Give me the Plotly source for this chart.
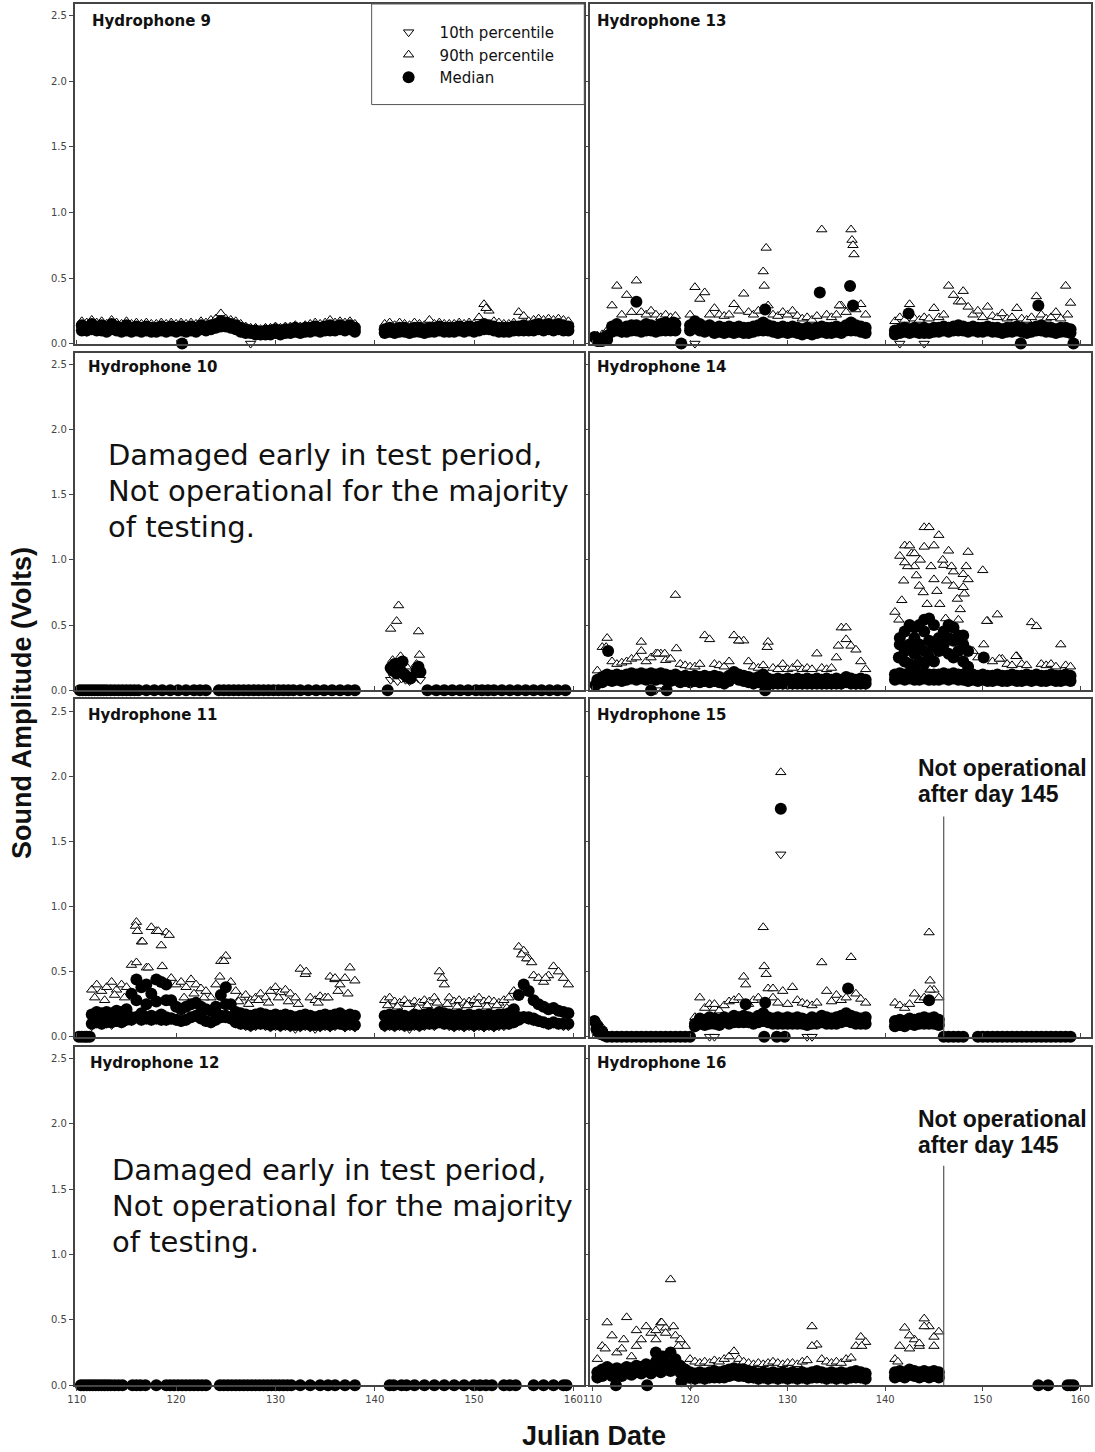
import plotly.graph_objects as go
from plotly.subplots import make_subplots

# ---------------- shared day grids (Julian day) ----------------
DAYS_A = [110.5, 111.0, 111.5, 112.0, 112.5, 113.0, 113.5, 114.0, 114.5, 115.0,
          115.5, 116.0, 116.5, 117.0, 117.5, 118.0, 118.5, 119.0, 119.5, 120.0,
          120.5, 121.0, 121.5, 122.0, 122.5, 123.0, 123.5, 124.0, 124.5, 125.0,
          125.5, 126.0, 126.5, 127.0, 127.5, 128.0, 128.5, 129.0, 129.5, 130.0,
          130.5, 131.0, 131.5, 132.0, 132.5, 133.0, 133.5, 134.0, 134.5, 135.0,
          135.5, 136.0, 136.5, 137.0, 137.5, 138.0]
DAYS_B = [141.0, 141.5, 142.0, 142.5, 143.0, 143.5, 144.0, 144.5, 145.0, 145.5,
          146.0, 146.5, 147.0, 147.5, 148.0, 148.5, 149.0, 149.5, 150.0, 150.5,
          151.0, 151.5, 152.0, 152.5, 153.0, 153.5, 154.0, 154.5, 155.0, 155.5,
          156.0, 156.5, 157.0, 157.5, 158.0, 158.5, 159.0, 159.5]
X_TICKS = [110, 120, 130, 140, 150, 160]
Y_TICKS = [0.0, 0.5, 1.0, 1.5, 2.0, 2.5]
Y_TICK_TEXT = ["0.0", "0.5", "1.0", "1.5", "2.0", "2.5"]

# ---------------- Hydrophone 9 ----------------
H9_MED_A = [.14, .12, .15, .13, .14, .12, .15, .13, .12, .14,
            .12, .13, .12, .13, .12, .12, .13, .12, .13, .12,
            .13, .12, .13, .12, .14, .13, .14, .15, .17, .16,
            .15, .14, .12, .11, .10, .10, .09, .10, .10, .11,
            .10, .11, .11, .12, .11, .12, .12, .13, .12, .13,
            .14, .13, .14, .13, .14, .12]
H9_MED2_A = [.10, .10, .11, .10, .10, .09, .11, .10, .09, .10,
             .09, .10, .09, .10, .09, .09, .10, .09, .10, .09,
             .10, .09, .10, .09, .11, .10, .11, .12, .13, .13,
             .12, .11, .09, .08, .08, .07, .07, .07, .07, .08,
             .07, .08, .08, .09, .08, .09, .09, .10, .09, .10,
             .10, .10, .11, .10, .11, .09]
H9_P90_A = [.17, .16, .18, .16, .17, .15, .18, .16, .15, .17,
            .15, .16, .15, .16, .15, .15, .16, .15, .16, .15,
            .16, .15, .16, .15, .17, .16, .18, .19, .23, .19,
            .18, .17, .15, .13, .12, .12, .11, .12, .12, .13,
            .12, .13, .13, .14, .13, .14, .15, .16, .15, .16,
            .18, .16, .17, .16, .17, .15]
H9_P10_A = [.11, .09, .12, .10, .11, .09, .12, .10, .09, .11,
            .09, .10, .09, .10, .09, .09, .10, .09, .10, .09,
            .10, .09, .10, .09, .11, .10, .11, .12, .14, .13,
            .12, .11, .09, .08, 0.0, .07, .06, .07, .07, .08,
            .07, .08, .08, .09, .08, .09, .09, .10, .09, .10,
            .11, .10, .11, .10, .11, .09]
H9_MED_B = [.11, .12, .11, .12, .12, .11, .12, .12, .11, .12,
            .12, .13, .12, .12, .12, .13, .12, .13, .12, .13,
            .15, .14, .13, .12, .12, .12, .13, .13, .14, .13,
            .14, .15, .14, .15, .14, .15, .14, .13]
H9_MED2_B = [.08, .09, .08, .09, .09, .08, .09, .09, .08, .09,
             .09, .10, .09, .09, .09, .10, .09, .10, .09, .10,
             .11, .11, .10, .09, .09, .09, .10, .10, .10, .10,
             .10, .11, .10, .11, .10, .11, .10, .10]
H9_P90_B = [.15, .16, .14, .16, .15, .14, .16, .15, .14, .18,
            .15, .16, .15, .15, .15, .16, .15, .16, .15, .20,
            .30, .25, .17, .16, .15, .15, .16, .24, .21, .17,
            .18, .19, .18, .19, .18, .19, .18, .17]
H9_P10_B = [.08, .09, .08, .09, .09, .08, .09, .09, .08, .09,
            .09, .10, .09, .09, .09, .10, .09, .10, .09, .10,
            .12, .11, .10, .09, .09, .09, .10, .10, .11, .10,
            .11, .12, .11, .12, .11, .12, .11, .10]
H9_MED_XD = [120.6]
H9_MED_XV = [0.0]
H9_P90_XD = [151.2]
H9_P90_XV = [0.27]
H9_P10_XD = []
H9_P10_XV = []

# ---------------- Hydrophone 13 ----------------
H13_MED_A = [.03, .04, .06, .13, .15, .12, .13, .14, .14, .13,
             .15, .14, .13, .15, .16, .14, .15, None, None, .14,
             .17, .15, .13, .14, .12, .13, .12, .13, .12, .13,
             .12, .12, .13, .14, .16, .14, .13, .12, .13, .12,
             .13, .12, .11, .12, .11, .12, .13, .12, .12, .13,
             .12, .14, .16, .14, .13, .12]
H13_MED2_A = [.02, .02, .03, .09, .10, .09, .09, .10, .10, .09,
              .10, .10, .09, .10, .10, .10, .10, None, None, .10,
              .12, .10, .09, .10, .08, .09, .08, .09, .08, .09,
              .08, .08, .09, .10, .10, .10, .09, .08, .09, .08,
              .09, .08, .07, .08, .07, .08, .09, .08, .08, .09,
              .08, .10, .10, .10, .09, .08]
H13_P90_A = [.06, .07, .10, .29, .44, .22, .37, .24, .48, .24,
             .22, .25, .22, .20, .22, .20, .21, None, None, .22,
             .43, .34, .39, .22, .27, .22, .21, .22, .30, .25,
             .38, .24, .22, .25, .55, .29, .22, .21, .24, .22,
             .25, .21, .19, .20, .18, .21, .87, .22, .20, .22,
             .29, .24, .87, .26, .30, .22]
H13_P10_A = [.01, .02, .03, .09, .10, .08, .09, .10, .10, .09,
             .10, .10, .09, .10, .11, .10, .10, None, None, .10,
             0.0, .11, .09, .10, .08, .09, .08, .09, .08, .09,
             .08, .08, .09, .10, .11, .10, .09, .08, .09, .08,
             .09, .08, .07, .08, .07, .08, .09, .08, .08, .09,
             .08, .10, .11, .10, .09, .08]
H13_MED_B = [.10, .11, .12, .11, .12, .11, .12, .11, .12, .12,
             .13, .12, .13, .14, .13, .12, .13, .12, .12, .13,
             .12, .12, .11, .12, .12, .13, .12, .11, .12, .13,
             .14, .12, .12, .11, .12, .12, .11, None]
H13_MED2_B = [.07, .08, .09, .08, .09, .08, .08, .08, .09, .09,
              .10, .09, .10, .10, .10, .09, .10, .09, .09, .10,
              .09, .09, .08, .09, .09, .10, .09, .08, .09, .10,
              .10, .09, .09, .08, .09, .09, .08, None]
H13_P90_B = [.17, .20, .18, .30, .19, .18, .20, .19, .27, .20,
             .22, .44, .37, .32, .40, .28, .22, .25, .20, .28,
             .21, .20, .23, .19, .20, .27, .19, .18, .20, .36,
             .22, .19, .20, .24, .19, .44, .31, None]
H13_P10_B = [.07, 0.0, .09, .08, .09, .08, 0.0, .08, .09, .09,
             .10, .09, .10, .11, .10, .09, .10, .09, .09, .10,
             .09, .09, .08, .09, .09, .10, .09, .08, .09, .10,
             .11, .09, .09, .08, .09, .09, .08, None]
H13_MED_XD = [110.2, 110.8, 111.2, 114.5, 118.3, 119.1, 127.7, 133.3, 136.4, 136.7, 142.4, 153.9, 155.7, 159.3]
H13_MED_XV = [0.05, 0.02, 0.03, 0.32, 0.16, 0.0, 0.26, 0.39, 0.44, 0.29, 0.23, 0.0, 0.29, 0.0]
H13_P90_XD = [127.6, 127.8, 136.6, 136.7, 136.8, 135.3, 147.8, 158.7]
H13_P90_XV = [0.44, 0.73, 0.79, 0.75, 0.68, 0.29, 0.32, 0.22]
H13_P10_XD = []
H13_P10_XV = []

# ---------------- Hydrophone 14 ----------------
H14_MED_A = [.08, .10, .12, .11, .12, .11, .12, .13, .12, .13,
             .12, .13, .12, .13, .12, .11, .12, .10, .11, .10,
             .11, .10, .11, .10, .11, .10, .09, .11, .14, .12,
             .11, .10, .09, .10, .12, .09, .08, .09, .08, .09,
             .08, .09, .08, .09, .08, .09, .08, .09, .08, .09,
             .08, .10, .09, .08, .09, .08]
H14_MED2_A = [.05, .06, .08, .07, .08, .07, .08, .09, .08, .09,
              .08, .09, .08, .09, .08, .07, .08, .06, .07, .06,
              .07, .06, .07, .06, .07, .06, .05, .07, .10, .08,
              .07, .06, .05, .06, .08, .05, .05, .05, .05, .05,
              .05, .05, .05, .05, .05, .05, .05, .05, .05, .05,
              .05, .06, .05, .05, .05, .05]
H14_P90_A = [.15, .33, .40, .22, .20, .21, .22, .24, .25, .37,
             .22, .25, .28, .28, .23, .24, .73, .20, .19, .18,
             .18, .20, .42, .39, .20, .19, .18, .22, .42, .38,
             .38, .22, .18, .17, .19, .37, .17, .16, .20, .16,
             .17, .20, .16, .17, .16, .28, .17, .16, .17, .25,
             .48, .48, .34, .31, .22, .16]
H14_P10_A = [.04, .06, .08, .07, .08, .07, .08, .09, .08, .09,
             .08, .09, 0.0, .09, .08, .07, .08, .06, .07, .06,
             .07, .06, .07, .06, .07, .06, .05, .07, .10, .08,
             .07, .06, .05, .06, .08, .05, .04, .05, .04, .05,
             .04, .05, .04, .05, .04, .05, .04, .05, .04, .05,
             .04, .06, .05, .04, .05, .04]
H14_MED_B = [.12, .13, .12, .13, .12, .12, .13, .12, .12, .12,
             .13, .12, .13, .12, .12, .11, .12, .11, .12, .11,
             .11, .12, .11, .11, .12, .11, .11, .12, .11, .12,
             .11, .11, .12, .11, .11, .12, .11, None]
H14_MED2_B = [.08, .09, .08, .09, .08, .08, .09, .08, .08, .08,
              .09, .08, .09, .08, .08, .07, .08, .07, .08, .07,
              .07, .08, .07, .07, .08, .07, .07, .08, .07, .08,
              .07, .07, .08, .07, .07, .08, .07, None]
H14_P90_B = [.60, 1.03, 1.11, 1.11, .95, .80, 1.25, 1.25, 1.11, 1.19,
             .96, 1.07, .91, .54, .89, 1.06, .30, .25, .92, .53,
             .22, .58, .24, .20, .19, .26, .20, .19, .52, .49,
             .20, .19, .20, .18, .35, .19, .18, None]
H14_P10_B = [.08, .09, .08, .09, .08, .08, .09, .08, .08, .08,
             .09, .08, .09, .08, .08, .07, .08, .07, .08, .07,
             .07, .08, .07, .07, .08, .07, .07, .08, .07, .08,
             .07, .07, .08, .07, .07, .08, .07, None]
H14_MED_XD = [116.0, 117.6, 127.7, 111.6, 110.3,
              141.4, 141.5, 141.5, 142.0, 142.0, 142.0, 142.5, 142.5, 142.5,
              143.0, 143.0, 143.0, 143.0, 143.5, 143.5, 143.5, 144.0, 144.0, 144.0, 144.0,
              144.5, 144.5, 144.5, 145.0, 145.0, 145.0, 145.5, 145.5, 146.0, 146.0,
              146.5, 146.5, 146.5, 147.0, 147.0, 147.0, 147.5, 147.5,
              148.0, 148.0, 148.0, 148.5, 148.5, 150.1]
H14_MED_XV = [0.0, 0.0, 0.0, 0.30, 0.04,
              0.25, 0.35, 0.40, 0.22, 0.30, 0.45, 0.20, 0.35, 0.50,
              0.18, 0.28, 0.40, 0.48, 0.22, 0.35, 0.50, 0.20, 0.30, 0.45, 0.54,
              0.25, 0.38, 0.55, 0.22, 0.33, 0.50, 0.30, 0.40, 0.35, 0.45,
              0.28, 0.40, 0.50, 0.25, 0.38, 0.48, 0.30, 0.42,
              0.22, 0.35, 0.42, 0.18, 0.30, 0.25]
H14_P90_XD = [141.4, 141.7, 141.9, 142.3, 142.7, 143.2, 143.6, 143.9, 144.3, 144.7,
              145.0, 145.3, 145.6, 145.9, 146.3, 146.8, 147.0, 147.4, 147.7, 148.0,
              148.1, 148.3, 148.5, 146.2, 144.0, 143.0, 142.0, 150.1, 151.7, 153.4,
              150.4, 111.4, 115.0, 116.7, 117.4, 118.6, 125.0, 127.9, 136.0, 135.2]
H14_P90_XV = [0.54, 0.69, 0.84, 0.95, 1.05, 0.88, 1.00, 0.75, 0.66, 0.95,
              0.85, 0.76, 0.66, 1.00, 0.84, 0.95, 0.80, 0.70, 0.62, 0.79,
              0.74, 0.95, 0.85, 0.55, 1.10, 1.05, 0.98, 0.35, 0.24, 0.26,
              0.53, 0.33, 0.30, 0.28, 0.28, 0.32, 0.38, 0.33, 0.39, 0.34]
H14_P10_XD = []
H14_P10_XV = []

# ---------------- Hydrophone 11 ----------------
H11_MED_A = [0.0, 0.0, .17, .19, .18, .19, .18, .20, .19, .21,
             .33, .44, .38, .40, .33, .44, .42, .40, .28, .23,
             .21, .23, .25, .26, .23, .21, .20, .23, .32, .38,
             .25, .19, .18, .17, .16, .17, .18, .17, .16, .17,
             .16, .17, .16, .15, .16, .17, .16, .15, .16, .17,
             .16, .17, .18, .16, .17, .16]
H11_MED2_A = [None, None, .10, .11, .10, .11, .11, .12, .11, .13,
              .13, .15, .13, .14, .13, .14, .13, .13, .14, .13,
              .12, .13, .15, .16, .14, .12, .11, .13, .15, .16,
              .14, .11, .10, .10, .09, .10, .10, .10, .09, .10,
              .09, .10, .09, .09, .09, .10, .09, .09, .09, .10,
              .09, .10, .10, .09, .10, .09]
H11_P90_A = [None, None, .36, .40, .35, .38, .42, .36, .40, .38,
             .55, .88, .73, .53, .84, .81, .70, .80, .45, .40,
             .42, .38, .44, .40, .37, .35, .30, .40, .58, .62,
             .42, .35, .30, .32, .28, .30, .33, .30, .35, .38,
             .34, .36, .33, .30, .52, .48, .30, .28, .31, .30,
             .46, .44, .40, .45, .53, .43]
H11_P10_A = [None, None, .08, .10, .09, .10, .09, .11, .10, .12,
             .12, .14, .12, .13, .12, .13, .12, .12, .13, .12,
             .11, .12, .14, .15, .13, .11, .10, .12, .14, .15,
             .13, .10, .09, .08, .07, .08, .09, .08, .07, .08,
             .07, .08, .07, .06, .07, .08, .07, .06, .07, .08,
             .07, .08, .09, .07, .08, .07]
H11_MED_B = [.16, .17, .16, .17, .16, .15, .17, .16, .17, .18,
             .17, .19, .18, .17, .16, .17, .16, .17, .16, .17,
             .16, .17, .16, .17, .17, .18, .21, .32, .40, .35,
             .28, .25, .23, .21, .22, .20, .19, .18]
H11_MED2_B = [.09, .10, .09, .10, .09, .09, .10, .09, .10, .10,
              .10, .11, .10, .10, .09, .10, .09, .10, .09, .10,
              .09, .10, .09, .10, .10, .10, .11, .13, .15, .14,
              .13, .12, .11, .10, .11, .10, .10, .10]
H11_P90_B = [.28, .30, .27, .26, .28, .25, .27, .26, .28, .27,
             .30, .50, .40, .30, .27, .28, .26, .27, .28, .30,
             .27, .28, .27, .26, .28, .30, .35, .69, .66, .60,
             .47, .45, .42, .47, .54, .50, .45, .40]
H11_P10_B = [.07, .08, .07, .08, .07, .06, .08, .07, .08, .09,
             .08, .10, .09, .08, .07, .08, .07, .08, .07, .08,
             .07, .08, .07, .08, .08, .09, .10, .12, .14, .13,
             .12, .11, .10, .09, .10, .09, .08, .08]
H11_MED_XD = [110.2, 110.8, 111.3,
              115.5, 116.0, 116.5, 117.0, 117.5, 118.0, 118.5, 119.0, 119.5,
              116.0, 117.0, 118.0, 119.0, 124.5, 125.0, 125.0,
              154.5, 155.0, 155.5, 156.0]
H11_MED_XV = [0.0, 0.0, 0.0,
              .15, .15, .18, .15, .16, .15, .17, .15, .14,
              .28, .25, .27, .28, .16, .15, .25,
              .15, .15, .15, .14]
H11_P90_XD = [115.9, 116.1, 116.0, 116.6, 117.2, 118.2, 118.6, 119.3, 124.8, 124.4,
              133.1, 136.0, 146.8, 154.8, 155.3, 155.8, 157.2,
              111.8, 112.8, 113.8, 114.8, 120.8, 121.8, 122.8,
              126.3, 127.3, 128.3, 129.3, 130.3, 131.3, 132.3, 134.3, 135.3, 136.3, 137.3,
              141.3, 142.3, 143.3, 144.3, 145.3, 146.3, 147.3, 148.3, 149.3, 150.3,
              151.3, 152.3, 153.3]
H11_P90_XV = [0.85, 0.81, 0.57, 0.73, 0.53, 0.81, 0.54, 0.78, 0.58, 0.46,
              0.50, 0.45, 0.45, 0.63, 0.60, 0.57, 0.45,
              0.30, 0.28, 0.32, 0.30, 0.30, 0.33, 0.30,
              0.27, 0.25, 0.28, 0.26, 0.30, 0.27, 0.25, 0.26, 0.30, 0.35, 0.33,
              0.24, 0.23, 0.25, 0.22, 0.24, 0.26, 0.25, 0.23, 0.24, 0.25,
              0.23, 0.24, 0.22]
H11_P10_XD = []
H11_P10_XV = []

# ---------------- Hydrophone 15 ----------------
H15_MED_A = [.08, .04, 0.0, 0.0, 0.0, 0.0, 0.0, 0.0, 0.0, 0.0,
             0.0, 0.0, 0.0, 0.0, 0.0, 0.0, 0.0, 0.0, 0.0, 0.0,
             .10, .14, .13, .15, .14, .13, .15, .14, .16, .15,
             .16, .15, .14, .16, .18, .15, .14, .15, .14, .15,
             .14, .15, .14, .13, .15, .14, .16, .15, .14, .15,
             .16, .18, .16, .15, .14, .15]
H15_MED2_A = [.04, .02, None, None, None, None, None, None, None, None,
              None, None, None, None, None, None, None, None, None, None,
              .08, .10, .09, .10, .10, .09, .11, .10, .11, .11,
              .11, .11, .10, .11, .12, .11, .10, .10, .10, .10,
              .10, .10, .10, .09, .10, .10, .11, .10, .10, .10,
              .11, .12, .11, .10, .10, .10]
H15_P90_A = [.12, .07, None, None, None, None, None, None, None, None,
             None, None, None, None, None, None, None, None, None, None,
             .15, .30, .22, .25, .22, .20, .24, .27, .28, .30,
             .46, .25, .28, .30, .84, .37, .30, .26, .35, .25,
             .38, .28, .26, .25, .24, .26, .57, .35, .27, .32,
             .28, .30, .61, .33, .29, .26]
H15_P10_A = [.03, .01, None, None, None, None, None, None, None, None,
             None, None, None, None, None, None, None, None, None, None,
             .07, .10, .09, 0.0, 0.0, .09, .11, .10, .12, .11,
             .12, .11, .10, .12, .13, .11, .10, .11, .10, .11,
             .10, .11, .10, 0.0, 0.0, .10, .12, .11, .10, .11,
             .12, .13, .12, .11, .10, .11]
H15_MED_B = [.12, .13, .12, .14, .13, .14, .15, .14, .15, .13,
             0.0, 0.0, 0.0, 0.0, 0.0, None, None, 0.0, 0.0, 0.0,
             0.0, 0.0, 0.0, 0.0, 0.0, 0.0, 0.0, 0.0, 0.0, 0.0,
             0.0, 0.0, 0.0, 0.0, 0.0, 0.0, 0.0, None]
H15_MED2_B = [.08, .09, .08, .10, .09, .10, .10, .10, .10, .09,
              None, None, None, None, None, None, None, None, None, None,
              None, None, None, None, None, None, None, None, None, None,
              None, None, None, None, None, None, None, None]
H15_P90_B = [.26, .24, .22, .25, .33, .28, .30, .80, .36, .30,
             None, None, None, None, None, None, None, None, None, None,
             None, None, None, None, None, None, None, None, None, None,
             None, None, None, None, None, None, None, None]
H15_P10_B = [.08, .09, .08, .10, .09, .10, .11, .10, .11, .09,
             None, None, None, None, None, None, None, None, None, None,
             None, None, None, None, None, None, None, None, None, None,
             None, None, None, None, None, None, None, None]
H15_MED_XD = [129.3, 136.2, 144.5, 127.6, 128.9, 129.7, 127.7, 110.2, 110.4, 110.8, 111.2, 125.7]
H15_MED_XV = [1.75, 0.37, 0.28, 0.0, 0.0, 0.0, 0.26, 0.12, 0.06, 0.02, 0.01, 0.25]
H15_P90_XD = [127.6, 127.8, 125.7, 129.3, 144.6, 144.6, 128.5, 122.5]
H15_P90_XV = [0.54, 0.48, 0.40, 2.03, 0.43, 0.36, 0.37, 0.25]
H15_P10_XD = [129.3]
H15_P10_XV = [1.40]

# ---------------- Hydrophone 16 ----------------
H16_MED_A = [.10, .12, .14, .12, .13, .12, .14, .13, .15, .14,
             .16, .14, .18, .15, .17, .16, .20, .15, .12, .10,
             .09, .10, .09, .10, .11, .10, .11, .12, .13, .12,
             .12, .11, .10, .09, .10, .09, .10, .09, .10, .09,
             .10, .09, .10, .09, .10, .11, .10, .09, .10, .09,
             .10, .09, .10, .11, .10, .09]
H16_MED2_A = [.06, .07, .09, .07, .08, .07, .09, .08, .10, .09,
              .11, .09, .12, .10, .12, .11, .14, .10, .08, .06,
              .05, .06, .05, .06, .06, .06, .06, .07, .08, .07,
              .07, .06, .06, .05, .06, .05, .06, .05, .06, .05,
              .06, .05, .06, .05, .06, .06, .06, .05, .06, .05,
              .06, .05, .06, .06, .06, .05]
H16_P90_A = [.20, .30, .48, .38, .25, .28, .52, .22, .30, .35,
             .45, .40, .42, .48, .44, .81, .38, .35, .30, .20,
             .18, .17, .18, .17, .19, .18, .20, .22, .26, .20,
             .18, .17, .16, .17, .16, .17, .18, .17, .16, .17,
             .17, .16, .18, .19, .45, .31, .20, .18, .17, .18,
             .17, .20, .21, .30, .37, .33]
H16_P10_A = [.05, .07, .09, .07, .08, .07, .09, .08, .10, .09,
             .11, .09, .13, .10, .12, .11, .15, .10, .07, 0.0,
             .04, .05, .04, .05, .06, .05, .06, .07, .08, .07,
             .07, .06, .05, .04, .05, .04, .05, .04, .05, .04,
             .05, .04, .05, .04, .05, .06, .05, .04, .05, .04,
             .05, .04, .05, .06, .05, .04]
H16_MED_B = [.10, .11, .10, .12, .11, .10, .11, .10, .11, .10,
             None, None, None, None, None, None, None, None, None, None,
             None, None, None, None, None, None, None, None, None, None,
             None, None, None, None, None, None, None, None]
H16_MED2_B = [.06, .07, .06, .08, .07, .06, .07, .06, .07, .06,
              None, None, None, None, None, None, None, None, None, None,
              None, None, None, None, None, None, None, None, None, None,
              None, None, None, None, None, None, None, None]
H16_P90_B = [.20, .30, .44, .28, .35, .30, .51, .45, .37, .41,
             None, None, None, None, None, None, None, None, None, None,
             None, None, None, None, None, None, None, None, None, None,
             None, None, None, None, None, None, None, None]
H16_P10_B = [.06, .07, .06, .08, .07, .06, .07, .06, .07, .06,
             None, None, None, None, None, None, None, None, None, None,
             None, None, None, None, None, None, None, None, None, None,
             None, None, None, None, None, None, None, None]
H16_MED_XD = [112.4, 115.6, 119.1, 119.3, 116.5, 117.2, 118.0, 155.7, 156.7, 158.7, 159.0, 159.3]
H16_MED_XV = [0.0, 0.0, 0.03, 0.06, 0.25, 0.22, 0.25, 0.0, 0.0, 0.0, 0.0, 0.0]
H16_P90_XD = [111.3, 113.2, 114.5, 116.5, 117.1, 117.5, 118.8, 132.5, 137.6, 118.3,
              141.3, 142.5, 143.5, 144.0, 145.0]
H16_P90_XV = [0.28, 0.35, 0.42, 0.35, 0.48, 0.40, 0.30, 0.30, 0.30, 0.45,
              0.18, 0.38, 0.32, 0.45, 0.30]
H16_P10_XD = [120.3]
H16_P10_XV = [0.02]

# ---------------- Hydrophone 10 (mostly zero) ----------------
H10_ZERO_D = [110.3, 110.6, 110.9, 111.2, 111.5, 111.8, 112.1, 112.4, 112.7, 113.0,
              113.4, 113.8, 114.2, 114.6, 115.0, 115.4, 115.8, 116.2, 117.0, 117.8,
              118.6, 119.4, 120.2, 121.0, 121.8, 122.4, 123.0, 124.3, 124.8, 125.3,
              125.8, 126.3, 126.8, 127.3, 127.8, 128.3, 128.8, 129.3, 129.8, 130.3,
              130.8, 131.3, 131.8, 132.5, 133.3, 134.1, 134.9, 135.7, 136.5, 137.3,
              138.0, 141.3, 145.3, 146.2, 147.0, 147.8, 148.6, 149.4, 150.2, 150.8,
              151.4, 152.0, 152.8, 153.6, 154.4, 155.2, 156.0, 156.8, 157.6, 158.4,
              159.2]
H10_ZERO_V = [0.0, 0.0, 0.0, 0.0, 0.0, 0.0, 0.0, 0.0, 0.0, 0.0,
              0.0, 0.0, 0.0, 0.0, 0.0, 0.0, 0.0, 0.0, 0.0, 0.0,
              0.0, 0.0, 0.0, 0.0, 0.0, 0.0, 0.0, 0.0, 0.0, 0.0,
              0.0, 0.0, 0.0, 0.0, 0.0, 0.0, 0.0, 0.0, 0.0, 0.0,
              0.0, 0.0, 0.0, 0.0, 0.0, 0.0, 0.0, 0.0, 0.0, 0.0,
              0.0, 0.0, 0.0, 0.0, 0.0, 0.0, 0.0, 0.0, 0.0, 0.0,
              0.0, 0.0, 0.0, 0.0, 0.0, 0.0, 0.0, 0.0, 0.0, 0.0,
              0.0]
H10_MED_D = [141.6, 141.8, 142.0, 142.2, 142.4, 142.6, 142.8, 143.0, 143.3, 143.6, 144.2, 144.4, 144.6]
H10_MED_V = [.17, .15, .20, .13, .18, .15, .22, .12, .10, .09, .15, .18, .14]
H10_P90_D = [141.6, 141.8, 142.2, 142.4, 142.6, 142.8, 143.2, 144.4, 144.5, 144.2]
H10_P90_V = [.47, .23, .53, .65, .26, .22, .18, .45, .27, .20]
H10_P10_D = [141.6, 141.9, 142.3, 142.7, 143.1, 143.5, 144.4, 144.6]
H10_P10_V = [.08, .10, .07, .09, .08, .07, .09, .08]

# ---------------- Hydrophone 12 (zero) ----------------
H12_ZERO_D = [110.4, 110.7, 111.0, 111.3, 111.6, 111.9, 112.2, 112.5, 112.8, 113.1,
              113.4, 113.8, 114.2, 114.6, 115.6, 116.0, 116.4, 116.9, 118.0, 119.0,
              119.4, 119.8, 120.2, 120.6, 121.0, 121.4, 121.8, 122.2, 122.6, 123.0,
              124.4, 124.8, 125.2, 125.6, 126.0, 126.4, 126.8, 127.2, 127.6, 128.0,
              128.4, 128.8, 129.2, 129.6, 130.0, 130.4, 130.8, 131.2, 131.6, 132.5,
              133.5, 134.5, 135.3, 136.0, 137.0, 138.0, 141.5, 141.9, 142.7, 143.2,
              144.0, 145.0, 146.0, 147.0, 148.0, 149.0, 150.0, 150.6, 151.2, 151.8,
              153.0, 153.6, 154.2, 156.0, 157.0, 158.0, 159.0, 159.3]
H12_ZERO_V = [0.0, 0.0, 0.0, 0.0, 0.0, 0.0, 0.0, 0.0, 0.0, 0.0,
              0.0, 0.0, 0.0, 0.0, 0.0, 0.0, 0.0, 0.0, 0.0, 0.0,
              0.0, 0.0, 0.0, 0.0, 0.0, 0.0, 0.0, 0.0, 0.0, 0.0,
              0.0, 0.0, 0.0, 0.0, 0.0, 0.0, 0.0, 0.0, 0.0, 0.0,
              0.0, 0.0, 0.0, 0.0, 0.0, 0.0, 0.0, 0.0, 0.0, 0.0,
              0.0, 0.0, 0.0, 0.0, 0.0, 0.0, 0.0, 0.0, 0.0, 0.0,
              0.0, 0.0, 0.0, 0.0, 0.0, 0.0, 0.0, 0.0, 0.0, 0.0,
              0.0, 0.0, 0.0, 0.0, 0.0, 0.0, 0.0, 0.0]


def grid_series(name, a, b, xd, xv, a2=None, b2=None):
    if len(a) != len(DAYS_A) or len(b) != len(DAYS_B) or len(xd) != len(xv):
        raise ValueError(f"length mismatch in {name}: {len(a)} {len(b)} {len(xd)} {len(xv)}")
    xs = DAYS_A + DAYS_B
    ys = list(a) + list(b)
    if a2 is not None:
        if len(a2) != len(DAYS_A) or len(b2) != len(DAYS_B):
            raise ValueError(f"length mismatch in {name} (second row): {len(a2)} {len(b2)}")
        xs = xs + DAYS_A + DAYS_B
        ys = ys + list(a2) + list(b2)
    return xs + list(xd), ys + list(xv)


def pair(name, xd, xv):
    if len(xd) != len(xv):
        raise ValueError(f"length mismatch in {name}")
    return list(xd), list(xv)


PANELS = {
    (1, 1): ("Hydrophone 9",
             grid_series("h9p10", H9_P10_A, H9_P10_B, H9_P10_XD, H9_P10_XV),
             grid_series("h9p90", H9_P90_A, H9_P90_B, H9_P90_XD, H9_P90_XV),
             grid_series("h9med", H9_MED_A, H9_MED_B, H9_MED_XD, H9_MED_XV, H9_MED2_A, H9_MED2_B)),
    (1, 2): ("Hydrophone 13",
             grid_series("h13p10", H13_P10_A, H13_P10_B, H13_P10_XD, H13_P10_XV),
             grid_series("h13p90", H13_P90_A, H13_P90_B, H13_P90_XD, H13_P90_XV),
             grid_series("h13med", H13_MED_A, H13_MED_B, H13_MED_XD, H13_MED_XV, H13_MED2_A, H13_MED2_B)),
    (2, 1): ("Hydrophone 10",
             pair("h10p10", H10_P10_D, H10_P10_V),
             pair("h10p90", H10_P90_D, H10_P90_V),
             pair("h10med", H10_ZERO_D + H10_MED_D, H10_ZERO_V + H10_MED_V)),
    (2, 2): ("Hydrophone 14",
             grid_series("h14p10", H14_P10_A, H14_P10_B, H14_P10_XD, H14_P10_XV),
             grid_series("h14p90", H14_P90_A, H14_P90_B, H14_P90_XD, H14_P90_XV),
             grid_series("h14med", H14_MED_A, H14_MED_B, H14_MED_XD, H14_MED_XV, H14_MED2_A, H14_MED2_B)),
    (3, 1): ("Hydrophone 11",
             grid_series("h11p10", H11_P10_A, H11_P10_B, H11_P10_XD, H11_P10_XV),
             grid_series("h11p90", H11_P90_A, H11_P90_B, H11_P90_XD, H11_P90_XV),
             grid_series("h11med", H11_MED_A, H11_MED_B, H11_MED_XD, H11_MED_XV, H11_MED2_A, H11_MED2_B)),
    (3, 2): ("Hydrophone 15",
             grid_series("h15p10", H15_P10_A, H15_P10_B, H15_P10_XD, H15_P10_XV),
             grid_series("h15p90", H15_P90_A, H15_P90_B, H15_P90_XD, H15_P90_XV),
             grid_series("h15med", H15_MED_A, H15_MED_B, H15_MED_XD, H15_MED_XV, H15_MED2_A, H15_MED2_B)),
    (4, 1): ("Hydrophone 12",
             ([], []), ([], []),
             pair("h12med", H12_ZERO_D, H12_ZERO_V)),
    (4, 2): ("Hydrophone 16",
             grid_series("h16p10", H16_P10_A, H16_P10_B, H16_P10_XD, H16_P10_XV),
             grid_series("h16p90", H16_P90_A, H16_P90_B, H16_P90_XD, H16_P90_XV),
             grid_series("h16med", H16_MED_A, H16_MED_B, H16_MED_XD, H16_MED_XV, H16_MED2_A, H16_MED2_B)),
}

# ---------------- layout geometry (page pixels, body margin removed) ----------------
W, H = 1095, 1452
COL_PX = {1: (68, 581), 2: (587, 1091)}
ROW_PX = {1: (4, 345), 2: (354, 693), 3: (702, 1041), 4: (1051, 1391)}
X_RANGE = [109.77, 161.1]
Y_TOP = {1: 2.591, 2: 2.592, 3: 2.592, 4: 2.592}
TITLE_X = {(1, 1): 84, (2, 1): 80, (3, 1): 80, (4, 1): 82,
           (1, 2): 592, (2, 2): 592, (3, 2): 592, (4, 2): 592}
TITLE_Y = {1: 21, 2: 369, 3: 718, 4: 1067}

MK_P10 = dict(symbol="triangle-down", size=9, color="white", line=dict(color="black", width=1))
MK_P90 = dict(symbol="triangle-up", size=9, color="white", line=dict(color="black", width=1))
MK_MED = dict(symbol="circle", size=12, color="black", line=dict(width=0))

fig = make_subplots(rows=4, cols=2)

for (r, c), (title, p10, p90, med) in PANELS.items():
    first = (r, c) == (1, 1)
    for (xs, ys), nm, mk in [(p10, "10th percentile", MK_P10),
                             (p90, "90th percentile", MK_P90),
                             (med, "Median", MK_MED)]:
        fig.add_trace(go.Scatter(x=xs, y=ys, mode="markers", name=nm, marker=mk,
                                 showlegend=first, cliponaxis=False, hoverinfo="skip"),
                      row=r, col=c)

axis_font = dict(family="DejaVu Sans", size=10, color="#444")
annotations = []
for (r, c), (title, *_rest) in PANELS.items():
    n = (r - 1) * 2 + c
    xa = "xaxis" if n == 1 else f"xaxis{n}"
    ya = "yaxis" if n == 1 else f"yaxis{n}"
    x0, x1 = COL_PX[c]
    t0, t1 = ROW_PX[r]
    fig.layout[xa].update(domain=[x0 / W, x1 / W], range=X_RANGE, tickvals=X_TICKS,
                          ticks="outside" if r == 4 else "inside", ticklen=4, tickcolor="#444",
                          showticklabels=(r == 4), tickfont=axis_font,
                          showline=True, mirror=True, linecolor="#444", linewidth=1.5,
                          showgrid=False, zeroline=False)
    fig.layout[ya].update(domain=[1 - t1 / H, 1 - t0 / H], range=[0, Y_TOP[r]], tickvals=Y_TICKS,
                          ticktext=Y_TICK_TEXT, ticks="outside", ticklen=4, tickcolor="#444",
                          showticklabels=(c == 1), tickfont=axis_font,
                          showline=True, mirror=True, linecolor="#444", linewidth=1.5,
                          showgrid=False, zeroline=False)
    annotations.append(dict(text=f"<b>{title}</b>", xref="paper", yref="paper",
                            x=TITLE_X[(r, c)] / W, y=1 - TITLE_Y[r] / H,
                            xanchor="left", yanchor="middle", showarrow=False,
                            font=dict(family="DejaVu Sans", size=15, color="#111")))

# damaged notes
for x_px, ys in [(100, (457, 493, 529)), (104, (1175, 1211, 1247))]:
    for line, y_px in zip(["Damaged early in test period,",
                           "Not operational for the majority",
                           "of testing."], ys):
        annotations.append(dict(text=line, xref="paper", yref="paper", x=x_px / W, y=1 - y_px / H,
                                xanchor="left", yanchor="middle", showarrow=False,
                                font=dict(family="DejaVu Sans", size=29, color="#111")))

# not operational notes
for ys in [(771, 797), (1124, 1150)]:
    for line, y_px in zip(["Not operational", "after day 145"], ys):
        annotations.append(dict(text=f"<b>{line}</b>", xref="paper", yref="paper",
                                x=915 / W, y=1 - y_px / H, xanchor="left", yanchor="middle",
                                showarrow=False,
                                font=dict(family="Liberation Sans", size=23, color="#111")))

# axis titles
annotations.append(dict(text="<b>Sound Amplitude (Volts)</b>", xref="paper", yref="paper",
                        x=15 / W, y=1 - 706 / H, textangle=-90, showarrow=False,
                        xanchor="center", yanchor="middle",
                        font=dict(family="Liberation Sans", size=27, color="#111")))
annotations.append(dict(text="<b>Julian Date</b>", xref="paper", yref="paper",
                        x=591 / W, y=1 - 1442 / H, showarrow=False,
                        xanchor="center", yanchor="middle",
                        font=dict(family="Liberation Sans", size=27, color="#111")))

shapes = [
    dict(type="line", xref="x6", yref="y6", x0=146, x1=146, y0=0, y1=1.69,
         line=dict(color="#555", width=1.2)),
    dict(type="line", xref="x8", yref="y8", x0=146, x1=146, y0=0, y1=1.68,
         line=dict(color="#555", width=1.2)),
    dict(type="rect", xref="paper", yref="paper", x0=367 / W, x1=581 / W,
         y0=1 - 105 / H, y1=1 - 4 / H, line=dict(color="#555", width=1), fillcolor="rgba(0,0,0,0)"),
]

fig.update_layout(
    width=W, height=H, margin=dict(l=0, r=0, t=0, b=0),
    paper_bgcolor="white", plot_bgcolor="white",
    annotations=annotations, shapes=shapes,
    showlegend=True,
    legend=dict(x=373 / W, y=1 - 16 / H, xanchor="left", yanchor="top",
                bgcolor="rgba(0,0,0,0)", borderwidth=0, itemwidth=52,
                font=dict(family="DejaVu Sans", size=15, color="#111"),
                traceorder="normal"),
)

fig.write_html("out.html",
               config={"displayModeBar": False},
               post_script="document.body.style.margin='0px';document.body.style.overflow='hidden';")
